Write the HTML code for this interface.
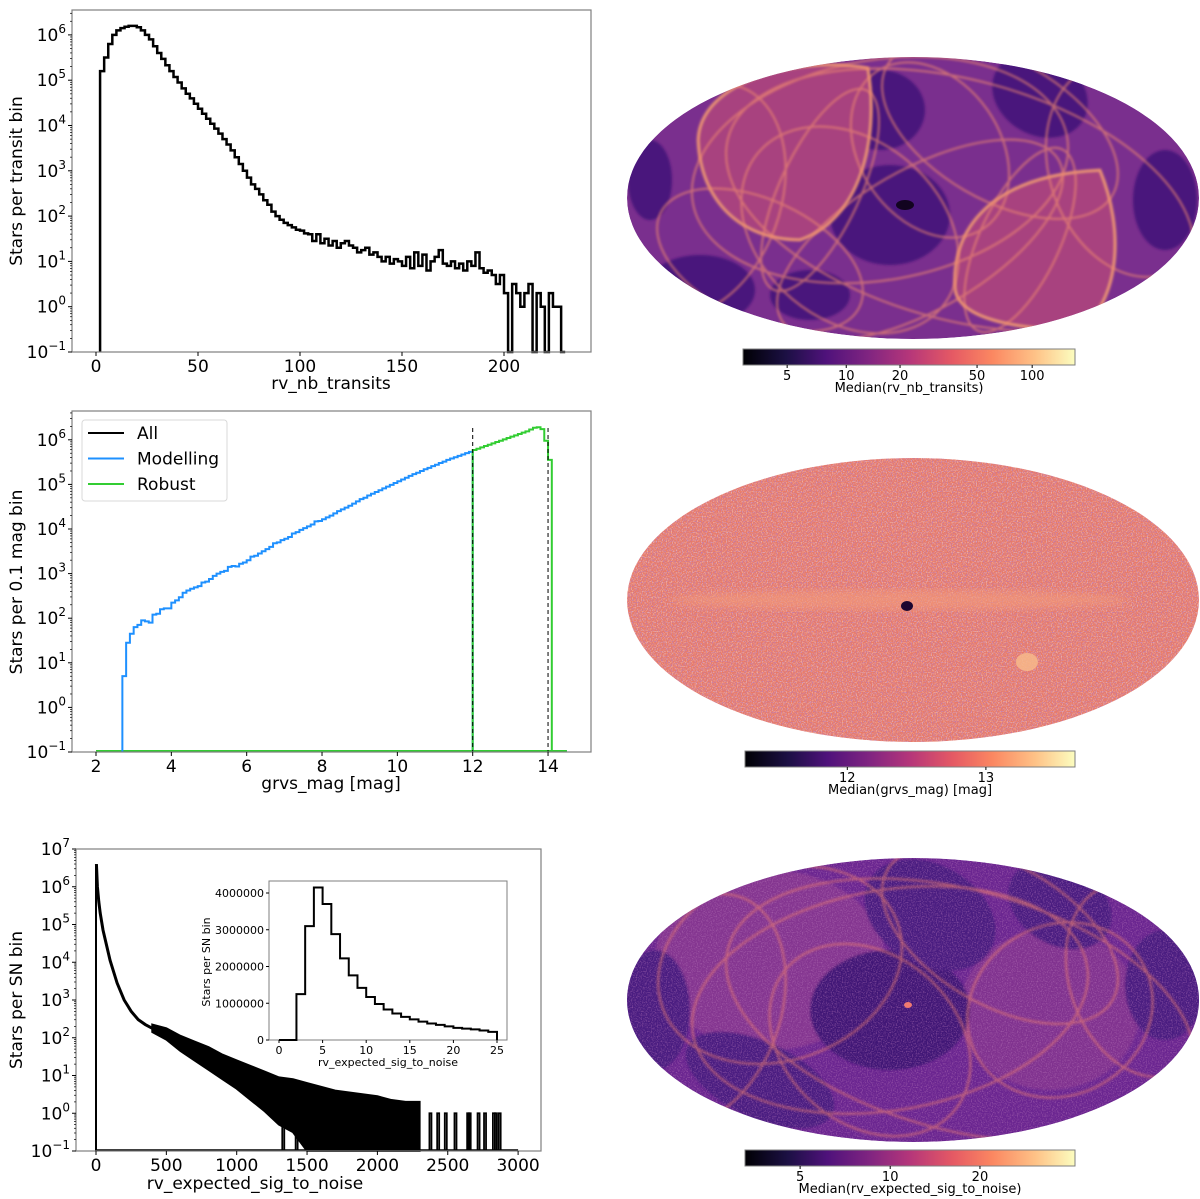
<!DOCTYPE html>
<html><head><meta charset="utf-8">
<style>
html,body{margin:0;padding:0;background:#fff;}
svg{display:block;font-family:"DejaVu Sans","Liberation Sans",sans-serif;}
</style></head>
<body>
<svg id="fig" width="1200" height="1199" viewBox="0 0 1200 1199" xmlns="http://www.w3.org/2000/svg">
<defs>
<linearGradient id="magma" x1="0" x2="1" y1="0" y2="0">
<stop offset="0" stop-color="#000004"/><stop offset="0.13" stop-color="#1c1044"/><stop offset="0.25" stop-color="#4f127b"/><stop offset="0.38" stop-color="#812581"/><stop offset="0.5" stop-color="#b5367a"/><stop offset="0.63" stop-color="#e55964"/><stop offset="0.75" stop-color="#fb8761"/><stop offset="0.88" stop-color="#fec287"/><stop offset="1" stop-color="#fcfdbf"/>
</linearGradient>
<clipPath id="c1"><ellipse cx="913" cy="198" rx="286" ry="141"/></clipPath>
<clipPath id="c2"><ellipse cx="913" cy="600" rx="286" ry="142"/></clipPath>
<clipPath id="c3"><ellipse cx="913" cy="1000" rx="286" ry="142"/></clipPath>
<filter id="blur"><feGaussianBlur stdDeviation="1.3"/></filter>
<filter id="blur3"><feGaussianBlur stdDeviation="4"/></filter>
<filter id="noise" x="0" y="0" width="1" height="1">
<feTurbulence type="fractalNoise" baseFrequency="0.8" numOctaves="1" seed="3" result="n"/>
<feColorMatrix in="n" type="matrix" values="0 0 0 0 0.5  0 0 0 0 0.2  0 0 0 0 0.5  3 0 0 0 -1.35"/>
</filter>
<filter id="noise2" x="0" y="0" width="1" height="1">
<feTurbulence type="fractalNoise" baseFrequency="0.8" numOctaves="1" seed="9" result="n"/>
<feColorMatrix in="n" type="matrix" values="0 0 0 0 1  0 0 0 0 0.75  0 0 0 0 0.6  3 0 0 0 -1.4"/>
</filter>
</defs>

<!-- MAP 1 -->
<g clip-path="url(#c1)">
<ellipse cx="913" cy="198" rx="286" ry="141" fill="#7a2f8e"/>
<g fill="#4a187c" filter="url(#blur)">
<ellipse cx="890" cy="215" rx="60" ry="50"/>
<ellipse cx="1040" cy="95" rx="50" ry="40" transform="rotate(30 1040 95)"/>
<ellipse cx="700" cy="290" rx="55" ry="35"/>
<ellipse cx="1165" cy="200" rx="32" ry="50"/>
<ellipse cx="880" cy="110" rx="45" ry="40"/>
<ellipse cx="810" cy="295" rx="40" ry="25"/>
<ellipse cx="650" cy="180" rx="22" ry="40"/>
</g>
<g fill="#a8437f" stroke="#f59a70" stroke-width="2.5" filter="url(#blur)">
<path d="M698,140 C700,80 800,55 868,68 C880,140 860,220 800,240 C740,240 700,200 698,140 Z"/>
<path d="M955,290 C950,230 990,175 1100,170 C1125,230 1120,300 1080,330 C1020,330 960,320 955,290 Z"/>
</g>
<g fill="none" stroke="#f08a70" stroke-width="2" opacity="0.7" filter="url(#blur)">
<ellipse cx="880" cy="170" rx="190" ry="110" transform="rotate(-10 880 170)"/>
<ellipse cx="960" cy="200" rx="240" ry="120" transform="rotate(15 960 200)"/>
<ellipse cx="850" cy="230" rx="120" ry="90" transform="rotate(40 850 230)"/>
<ellipse cx="1000" cy="130" rx="130" ry="70" transform="rotate(30 1000 130)"/>
<ellipse cx="700" cy="200" rx="80" ry="120" transform="rotate(20 700 200)"/>
<ellipse cx="1130" cy="170" rx="80" ry="110" transform="rotate(-20 1130 170)"/>
<ellipse cx="920" cy="240" rx="160" ry="70" transform="rotate(-30 920 240)"/>
<ellipse cx="760" cy="260" rx="110" ry="60" transform="rotate(25 760 260)"/>
<ellipse cx="930" cy="150" rx="70" ry="95" transform="rotate(-35 930 150)"/>
<ellipse cx="820" cy="190" rx="40" ry="110" transform="rotate(25 820 190)"/>
<ellipse cx="1020" cy="240" rx="40" ry="100" transform="rotate(25 1020 240)"/>
</g>
<ellipse cx="905" cy="205" rx="9" ry="5" fill="#120420"/>
</g>

<!-- MAP 2 -->
<g clip-path="url(#c2)">
<ellipse cx="913" cy="600" rx="286" ry="142" fill="#e97a66"/>
<rect x="620" y="455" width="590" height="290" filter="url(#noise)"/>
<rect x="620" y="455" width="590" height="290" filter="url(#noise2)" opacity="0.6"/>
<ellipse cx="900" cy="600" rx="230" ry="10" fill="#f39a7a" opacity="0.6" filter="url(#blur3)"/>
<ellipse cx="907" cy="606" rx="6" ry="5" fill="#1a0630"/>
<ellipse cx="1027" cy="662" rx="11" ry="9" fill="#f7b98a" opacity="0.85"/>
</g>

<!-- MAP 3 -->
<g clip-path="url(#c3)">
<ellipse cx="913" cy="1000" rx="286" ry="142" fill="#6a2590"/>
<g filter="url(#blur)">
<ellipse cx="770" cy="960" rx="115" ry="90" fill="#843490"/>
<ellipse cx="1050" cy="1010" rx="90" ry="80" fill="#80338f"/>
<ellipse cx="890" cy="1010" rx="80" ry="60" fill="#3f1476"/>
<ellipse cx="930" cy="915" rx="70" ry="50" fill="#4a1a80" transform="rotate(30 930 915)"/>
<ellipse cx="1060" cy="905" rx="55" ry="40" fill="#4a1a80" transform="rotate(30 1060 905)"/>
<ellipse cx="1165" cy="985" rx="40" ry="55" fill="#4a1a80"/>
<ellipse cx="760" cy="1080" rx="80" ry="38" fill="#4a1a80" transform="rotate(25 760 1080)"/>
<ellipse cx="655" cy="1010" rx="35" ry="60" fill="#4a1a80"/>
</g>
<rect x="620" y="855" width="590" height="290" filter="url(#noise)" opacity="0.5"/>
<g fill="none" stroke="#f08070" stroke-width="2" opacity="0.65" filter="url(#blur)">
<ellipse cx="780" cy="965" rx="125" ry="95" transform="rotate(-20 780 965)"/>
<ellipse cx="1060" cy="1010" rx="95" ry="85" transform="rotate(-30 1060 1010)"/>
<ellipse cx="890" cy="1000" rx="200" ry="110" transform="rotate(-10 890 1000)"/>
<ellipse cx="960" cy="1010" rx="240" ry="120" transform="rotate(15 960 1010)"/>
<ellipse cx="870" cy="1040" rx="110" ry="85" transform="rotate(40 870 1040)"/>
<ellipse cx="1000" cy="935" rx="130" ry="70" transform="rotate(30 1000 935)"/>
<ellipse cx="1140" cy="980" rx="70" ry="100" transform="rotate(-20 1140 980)"/>
<ellipse cx="700" cy="1010" rx="80" ry="120" transform="rotate(20 700 1010)"/>
</g>
<ellipse cx="908" cy="1005" rx="4" ry="3" fill="#f07a70"/>
</g>

<g id="charts"></g>
</svg>

<script>
// ---------- DATA ----------
const transitStart = 2;
const transitWidth = 2;
const transitLog = [5.2,5.5,5.8,6.0,6.1,6.15,6.18,6.2,6.2,6.17,6.1,6.0,5.9,5.75,5.6,5.47,5.33,5.2,5.07,4.95,4.82,4.7,4.6,4.48,4.37,4.26,4.15,4.04,3.93,3.82,3.7,3.58,3.45,3.3,3.15,3.0,2.85,2.7,2.6,2.48,2.35,2.25,2.1,2.0,1.92,1.85,1.8,1.75,1.7,1.68,1.62,1.6,1.45,1.6,1.4,1.5,1.35,1.45,1.3,1.4,1.45,1.35,1.3,1.2,1.25,1.3,1.15,1.2,1.1,1.0,1.1,0.95,1.05,1.0,0.9,1.1,0.85,1.2,0.9,1.15,0.8,1.0,1.1,1.25,0.95,0.9,1.0,0.85,0.95,0.8,1.0,0.9,1.2,0.85,0.75,0.8,0.7,0.5,0.7,0.3,-2,0.5,0.3,0,0.3,0.5,-2,0.3,0,-2,0.3,0,0,-2];
const magStartBlue = 2.7;
const magBlueLog = [0.7,1.45,1.65,1.8,1.85,1.95,1.93,1.9,2.08,2.1,2.2,2.22,2.22,2.35,
2.4,2.47,2.57,2.62,2.66,2.69,2.72,2.8,2.82,2.88,
2.95,3.0,3.04,3.06,3.15,3.17,3.16,3.22,3.25,3.3,
3.38,3.4,3.45,3.5,3.55,3.6,3.68,3.7,3.75,3.78,
3.82,3.9,3.93,3.98,4.02,4.06,4.1,4.17,4.18,4.22,
4.26,4.3,4.35,4.4,4.44,4.48,4.52,4.57,4.62,4.67,
4.7,4.75,4.79,4.83,4.87,4.91,4.95,4.99,5.03,5.07,
5.11,5.15,5.19,5.23,5.26,5.3,5.34,5.37,5.41,5.44,
5.48,5.51,5.55,5.58,5.61,5.64,5.67,5.7,5.73];
const magStartGreen = 12.0;
const magGreenLog = [5.77,5.8,5.83,5.86,5.89,5.92,5.95,5.98,6.01,6.04,6.07,6.1,6.13,6.16,6.19,6.23,6.27,6.28,6.24,5.98,5.55];
const magCuts = [12, 14];
const legendLabels = ["All","Modelling","Robust"];
const snCurveX = [3,10,20,30,50,75,100,150,200,250,300,350,400];
const snCurveLog = [6.6,6.0,5.6,5.3,4.85,4.45,4.05,3.45,3.0,2.7,2.48,2.35,2.25];
const snBandX = [400,500,600,700,800,900,1000,1100,1200,1300,1400,1500,1600,1700,1800,1900,2000,2100,2200,2300];
const snBandUpper = [2.35,2.25,2.05,1.9,1.75,1.55,1.4,1.25,1.1,0.95,0.9,0.8,0.7,0.6,0.55,0.5,0.45,0.35,0.3,0.3];
const snBandLower = [2.15,1.95,1.65,1.4,1.15,0.9,0.65,0.35,0.05,-0.3,-0.5,-1,-1,-1,-1,-1,-1,-1,-1,-1];
const snSparseSpikes = [1331,1426,2377,2432,2486,2555,2645,2656,2719,2765,2828,2842,2869];
const insetCounts = [0,0,1250000,3100000,4150000,3700000,2880000,2220000,1760000,1420000,1170000,980000,830000,720000,630000,560000,500000,450000,410000,370000,330000,310000,290000,260000,220000];
const insetXTicks = [0,5,10,15,20,25];
const insetYTicks = [0,1000000,2000000,3000000,4000000];
const cb1Ticks = ["5","10","20","50","100"];
const cb1Pos = [0.133,0.311,0.473,0.705,0.871];
const cb2Ticks = ["12","13"];
const cb2Pos = [0.31,0.73];
const cb3Ticks = ["5","10","20"];
const cb3Pos = [0.167,0.44,0.712];

// ---------- DRAW ----------
const NS = "http://www.w3.org/2000/svg";
const root = document.getElementById('charts');
function el(tag, attrs, parent) {
  const e = document.createElementNS(NS, tag);
  for (const k in attrs) e.setAttribute(k, attrs[k]);
  (parent || root).appendChild(e);
  return e;
}
function txt(parent, x, y, s, size, anchor) {
  const t = el('text', {x:x, y:y, 'font-size':size, 'text-anchor':anchor||'middle', fill:'#000'}, parent);
  t.textContent = s;
  return t;
}
function logLabel(parent, x, y, e) {
  const t = el('text', {x:x, y:y, 'font-size':17, 'text-anchor':'end', fill:'#000'}, parent);
  t.appendChild(document.createTextNode('10'));
  const sp = document.createElementNS(NS, 'tspan');
  sp.setAttribute('dy', '-8'); sp.setAttribute('font-size', '12');
  sp.textContent = e < 0 ? '\u2212' + (-e) : String(e);
  t.appendChild(sp);
}
function frame(parent, x0, y0, x1, y1) {
  el('rect', {x:x0, y:y0, width:x1-x0, height:y1-y0, fill:'none', stroke:'#7f7f7f', 'stroke-width':1.2}, parent);
}
function logYAxis(parent, x0, yfun, eMin, eMax, yTop) {
  for (let e = eMin; e <= eMax; e++) {
    const y = yfun(e);
    el('line', {x1:x0-4, x2:x0, y1:y, y2:y, stroke:'#000', 'stroke-width':1}, parent);
    logLabel(parent, x0-6, y+6, e);
    for (let k = 2; k <= 9; k++) {
      const ym = yfun(e + Math.log10(k));
      if (ym >= yTop) el('line', {x1:x0-2, x2:x0, y1:ym, y2:ym, stroke:'#000', 'stroke-width':0.7}, parent);
    }
  }
}
function xAxis(parent, vals, xfun, y1, size) {
  vals.forEach(v => {
    const x = xfun(v);
    el('line', {x1:x, x2:x, y1:y1, y2:y1+4, stroke:'#000', 'stroke-width':1}, parent);
    txt(parent, x, y1+20, String(v), size||17);
  });
}
function stepPath(start, width, logs, xf, yf, base) {
  let d = 'M' + xf(start) + ',' + base;
  logs.forEach((L, i) => {
    const y = L < -1 ? base : yf(L);
    d += ' V' + y + ' H' + xf(start + (i+1)*width);
  });
  d += ' V' + base;
  return d;
}

// ---- Top histogram ----
{
  const g = el('g', {});
  
  
  const X0=72, X1=591, Y0=10, Y1=352;
  const xf = v => 96 + v*2.04;
  const yf = L => Y1 - (L+1)*45.3;
  el('path', {d: stepPath(transitStart, transitWidth, transitLog, xf, yf, Y1), fill:'none', stroke:'#000', 'stroke-width':2.5}, g);
  frame(g, X0, Y0, X1, Y1);
  logYAxis(g, X0, yf, -1, 6, Y0);
  xAxis(g, [0,50,100,150,200], xf, Y1);
  const xl = txt(g, 331, 389, 'rv_nb_transits', 17);
  
  const yl = txt(g, 0, 0, 'Stars per transit bin', 17);
  yl.setAttribute('transform', 'translate(22,181) rotate(-90)');
  
}

// ---- Middle histogram ----
{
  const g = el('g', {});
  
  
  const X0=72, X1=591, Y0=411, Y1=752;
  const xf = v => 96 + (v-2)*37.67;
  const yf = L => Y1 - (L+1)*44.6;
  el('line', {x1:xf(12), x2:xf(14.5), y1:Y1-1, y2:Y1-1, stroke:'#1e90ff', 'stroke-width':2}, g);
  el('line', {x1:xf(2), x2:xf(14.5), y1:Y1-1, y2:Y1-1, stroke:'#32cd32', 'stroke-width':2}, g);
  const blue = el('path', {d: stepPath(magStartBlue, 0.1, magBlueLog, xf, yf, Y1), fill:'none', stroke:'#1e90ff', 'stroke-width':2}, g);
  
  const green = el('path', {d: stepPath(magStartGreen, 0.1, magGreenLog, xf, yf, Y1), fill:'none', stroke:'#32cd32', 'stroke-width':2}, g);
  
  magCuts.forEach(c => {
    const l = el('line', {x1:xf(c), x2:xf(c), y1:428, y2:Y1, stroke:'#000', 'stroke-width':1, 'stroke-dasharray':'4,3'}, g);
    
  });
  frame(g, X0, Y0, X1, Y1);
  logYAxis(g, X0, yf, -1, 6, Y0);
  xAxis(g, [2,4,6,8,10,12,14], xf, Y1);
  const xl = txt(g, 331, 789, 'grvs_mag [mag]', 17);
  
  const yl = txt(g, 0, 0, 'Stars per 0.1 mag bin', 17);
  yl.setAttribute('transform', 'translate(22,582) rotate(-90)');
  
  const lg = el('g', {}, g);
  
  
  el('rect', {x:82, y:420, width:145, height:81, rx:3, fill:'#fff', stroke:'#d9d9d9', 'stroke-width':1}, lg);
  const cols = ['#000','#1e90ff','#32cd32'];
  legendLabels.forEach((s, i) => {
    const y = 433 + i*25.5;
    const e = el('g', {}, lg);
    
    
    el('line', {x1:88, x2:124, y1:y, y2:y, stroke:cols[i], 'stroke-width':2}, e);
    txt(e, 137, y+6, s, 17, 'start');
  });
}

// ---- Bottom histogram ----
{
  const g = el('g', {});
  
  
  const X0=76, X1=541, Y0=849, Y1=1151;
  const xf = v => 96 + v*0.1407;
  const yf = L => Y1 - (L+1)*37.75;
  el('line', {x1:xf(0), x2:xf(3000), y1:Y1-1, y2:Y1-1, stroke:'#000', 'stroke-width':1.5}, g);
  el('line', {x1:xf(0), x2:xf(0), y1:Y1, y2:yf(snCurveLog[0]), stroke:'#000', 'stroke-width':2}, g);
  let d = 'M' + xf(snCurveX[0]) + ',' + yf(snCurveLog[0]);
  snCurveX.forEach((v,i) => { d += ' L' + xf(v) + ',' + yf(snCurveLog[i]); });
  const c = el('path', {d:d, fill:'none', stroke:'#000', 'stroke-width':3}, g);
  
  let b = '';
  snBandX.forEach((v,i) => { b += (i? ' L':'M') + xf(v) + ',' + yf(snBandUpper[i]); });
  for (let i = snBandX.length-1; i >= 0; i--) b += ' L' + xf(snBandX[i]) + ',' + yf(snBandLower[i]);
  b += 'Z';
  const band = el('path', {d:b, fill:'#000', stroke:'#000', 'stroke-width':2}, g);
  
  snSparseSpikes.forEach(v => {
    const s = el('path', {d:'M'+(xf(v)-1)+','+Y1+' V'+yf(0)+' H'+(xf(v)+1)+' V'+Y1, fill:'none', stroke:'#000', 'stroke-width':1.8}, g);
    
  });
  frame(g, X0, Y0, X1, Y1);
  logYAxis(g, X0, yf, -1, 7, Y0);
  xAxis(g, [0,500,1000,1500,2000,2500,3000], xf, Y1);
  const xl = txt(g, 255, 1189, 'rv_expected_sig_to_noise', 17);
  
  const yl = txt(g, 0, 0, 'Stars per SN bin', 17);
  yl.setAttribute('transform', 'translate(22,1000) rotate(-90)');
  

  const ig = el('g', {}, g);
  
  
  const IX0=269, IX1=507, IY0=881, IY1=1040;
  const ixf = v => 279 + v*8.72;
  const iyf = v => IY1 - v/4000000*147;
  el('rect', {x:IX0, y:IY0, width:IX1-IX0, height:IY1-IY0, fill:'#fff', stroke:'#7f7f7f', 'stroke-width':1}, ig);
  let p = 'M' + ixf(0) + ',' + IY1;
  insetCounts.forEach((v,i) => { p += ' V' + iyf(v) + ' H' + ixf(i+1); });
  p += ' V' + IY1;
  el('path', {d:p, fill:'none', stroke:'#000', 'stroke-width':2}, ig);
  insetXTicks.forEach(v => {
    el('line', {x1:ixf(v), x2:ixf(v), y1:IY1, y2:IY1+3, stroke:'#000'}, ig);
    txt(ig, ixf(v), IY1+14, String(v), 11);
  });
  insetYTicks.forEach(v => {
    el('line', {x1:IX0-3, x2:IX0, y1:iyf(v), y2:iyf(v), stroke:'#000'}, ig);
    txt(ig, IX0-5, iyf(v)+4, String(v), 11, 'end');
  });
  txt(ig, 388, 1066, 'rv_expected_sig_to_noise', 11);
  const iyl = txt(ig, 0, 0, 'Stars per SN bin', 11);
  iyl.setAttribute('transform', 'translate(210,962) rotate(-90)');
}

// ---- Colorbars ----
function colorbar(name, x0, x1, y0, y1, ticks, pos, label) {
  const g = el('g', {});
  
  
  el('rect', {x:x0, y:y0, width:x1-x0, height:y1-y0, fill:'url(#magma)', stroke:'#7f7f7f', 'stroke-width':1}, g);
  ticks.forEach((t,i) => {
    const x = x0 + pos[i]*(x1-x0);
    el('line', {x1:x, x2:x, y1:y1, y2:y1+3, stroke:'#000'}, g);
    txt(g, x, y1+15, t, 13);
  });
  txt(g, (x0+x1)/2, y1+27, label, 13);
}
colorbar('colorbar-nb-transits', 743, 1075, 349, 365, cb1Ticks, cb1Pos, 'Median(rv_nb_transits)');
colorbar('colorbar-grvs-mag', 745, 1075, 751, 767, cb2Ticks, cb2Pos, 'Median(grvs_mag) [mag]');
colorbar('colorbar-sig-to-noise', 745, 1075, 1150, 1166, cb3Ticks, cb3Pos, 'Median(rv_expected_sig_to_noise)');
</script>
</body></html>
